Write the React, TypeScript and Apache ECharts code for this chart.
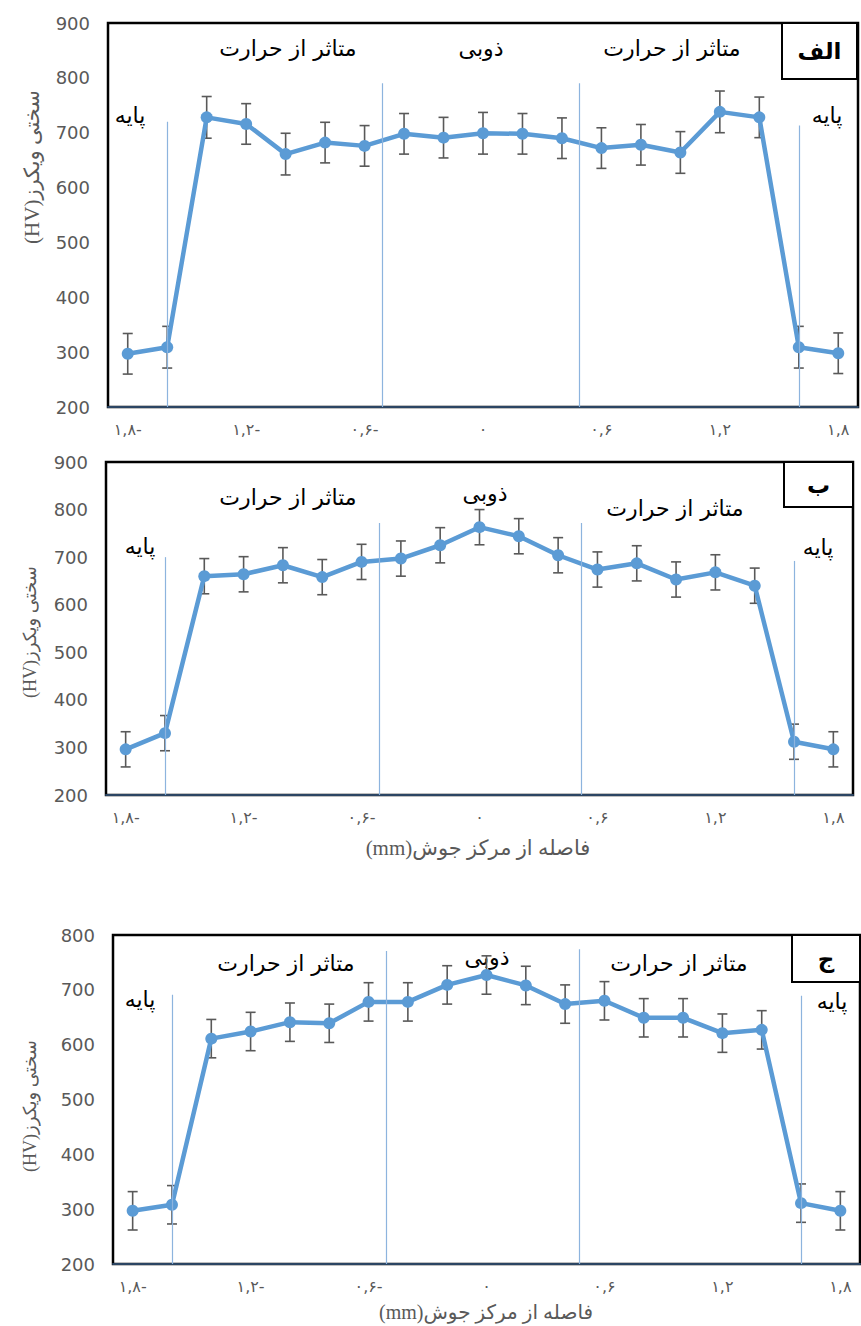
import React, { useEffect, useRef } from "react";
import * as echarts from "echarts";

// Distance from weld centre (mm)
const xs = [-1.8, -1.6, -1.4, -1.2, -1.0, -0.8, -0.6, -0.4, -0.2, 0, 0.2, 0.4, 0.6, 0.8, 1.0, 1.2, 1.4, 1.6, 1.8];

// Panel الف
const hvA = [297, 309, 728, 716, 661, 682, 676, 698, 691, 699, 698, 690, 672, 678, 664, 738, 728, 309, 298];
const errA = [37, 38, 38, 37, 38, 37, 37, 37, 37, 38, 37, 37, 37, 37, 38, 38, 37, 38, 37];
// Panel ب
const hvB = [296, 330, 660, 664, 683, 658, 690, 697, 725, 763, 744, 704, 674, 687, 653, 668, 640, 312, 296];
const errB = [37, 37, 37, 37, 37, 37, 37, 37, 37, 37, 37, 37, 37, 37, 37, 37, 37, 37, 37];
// Panel ج
const hvC = [297, 308, 611, 624, 641, 639, 678, 678, 709, 727, 708, 674, 680, 649, 649, 621, 627, 311, 297];
const errC = [35, 35, 35, 35, 35, 35, 35, 35, 35, 35, 35, 35, 35, 35, 35, 35, 35, 35, 35];

// zone boundary lines: [x, top value]
const zonesA = [[-1.6, 720], [-0.51, 790], [0.49, 790], [1.6, 713]];
const zonesB = [[-1.6, 700], [-0.51, 772], [0.52, 772], [1.6, 692]];
const zonesC = [[-1.6, 691], [-0.51, 771], [0.47, 774], [1.6, 689]];

const xTickValues = [-1.8, -1.2, -0.6, 0, 0.6, 1.2, 1.8];
const xTickLabels = ["۱,۸-", "۱,۲-", "۰,۶-", "۰", "۰,۶", "۱,۲", "۱,۸"];

const yMins = [200, 200, 200];
const yMaxs = [900, 900, 800];

const panelLetters = ["الف", "ب", "ج"];
const zoneHAZ = "متاثر از حرارت";
const zoneFZ = "ذوبی";
const zoneBase = "پایه";
const yTitle = "(HV)سختی ویکرز";
const xTitle = "(mm)فاصله از مرکز جوش";

const LINE_COLOR = "#5B9BD5";
const ERR_COLOR = "#595959";
const ZONE_COLOR = "#8DB4DE";
const PFONT = "DejaVu Sans";

const grids = [
  { left: 108, top: 23, width: 750, height: 384 },
  { left: 106, top: 462, width: 747, height: 333 },
  { left: 113, top: 935, width: 747, height: 329 },
];

export default function App() {
  const ref = useRef<HTMLDivElement>(null);
  useEffect(() => {
    if (!ref.current) return;
    const chart = echarts.init(ref.current, null, { renderer: "svg" });
    const datasets = [
      { hv: hvA, err: errA, zones: zonesA },
      { hv: hvB, err: errB, zones: zonesB },
      { hv: hvC, err: errC, zones: zonesC },
    ];

    const xAxis = grids.map((_, i) => ({
      type: "value",
      gridIndex: i,
      min: -1.9,
      max: 1.9,
      splitLine: { show: false },
      axisTick: { show: false },
      axisLine: { show: true, onZero: false, lineStyle: { color: "#2B4563", width: 2 } },
      axisLabel: {
        customValues: xTickValues,
        color: "#595959",
        fontSize: 16,
        margin: 14,
        fontFamily: PFONT,
        formatter: (v: number) => {
          const k = xTickValues.findIndex((t) => Math.abs(t - v) < 1e-6);
          return k >= 0 ? xTickLabels[k] : "";
        },
      },
    }));

    const yAxis = grids.map((_, i) => ({
      type: "value",
      gridIndex: i,
      min: yMins[i],
      max: yMaxs[i],
      interval: 100,
      splitLine: { show: false },
      axisTick: { show: false },
      axisLine: { show: false },
      axisLabel: { color: "#595959", fontSize: 18, margin: 18, fontFamily: "DejaVu Sans" },
    }));

    const series: any[] = [];
    datasets.forEach((d, i) => {
      series.push({
        type: "custom",
        xAxisIndex: i,
        yAxisIndex: i,
        z: 1,
        silent: true,
        data: xs.map((x, k) => [x, d.hv[k] - d.err[k], d.hv[k] + d.err[k]]),
        renderItem: (params: any, api: any) => {
          const x = api.value(0);
          const top = api.coord([x, api.value(2)]);
          const bot = api.coord([x, api.value(1)]);
          const w = 5;
          const st = { stroke: ERR_COLOR, lineWidth: 1.6 };
          return {
            type: "group",
            children: [
              { type: "line", shape: { x1: top[0], y1: top[1], x2: bot[0], y2: bot[1] }, style: st },
              { type: "line", shape: { x1: top[0] - w, y1: top[1], x2: top[0] + w, y2: top[1] }, style: st },
              { type: "line", shape: { x1: bot[0] - w, y1: bot[1], x2: bot[0] + w, y2: bot[1] }, style: st },
            ],
          };
        },
      });
      series.push({
        type: "line",
        xAxisIndex: i,
        yAxisIndex: i,
        z: 2,
        data: xs.map((x, k) => [x, d.hv[k]]),
        symbol: "circle",
        symbolSize: 12,
        lineStyle: { color: LINE_COLOR, width: 4.5 },
        itemStyle: { color: LINE_COLOR },
        markLine: {
          silent: true,
          symbol: ["none", "none"],
          label: { show: false },
          lineStyle: { color: ZONE_COLOR, width: 1.2, type: "solid" },
          data: d.zones.map((z) => [{ coord: [z[0], yMins[i]] }, { coord: [z[0], z[1]] }]),
        },
      });
    });

    const txt = (x: number, y: number, text: string, fontSize: number, extra: any = {}) => ({
      type: "text",
      x,
      y,
      style: {
        text,
        fontSize,
        fontFamily: PFONT,
        fill: "#000",
        align: "center",
        verticalAlign: "middle",
        ...extra,
      },
    });

    const boxes = [
      { x: 782, y: 23, w: 75, h: 56 },
      { x: 784, y: 462, w: 69, h: 45 },
      { x: 792, y: 935, w: 68, h: 47 },
    ];

    const graphic: any[] = [];
    boxes.forEach((b, i) => {
      graphic.push({
        type: "rect",
        shape: { x: b.x, y: b.y, width: b.w, height: b.h },
        style: { fill: "#fff", stroke: "#000", lineWidth: 2 },
        z: 10,
      });
      graphic.push({ ...txt(b.x + b.w / 2, b.y + b.h / 2, panelLetters[i], 23, { fontWeight: "bold" }), z: 11 });
    });

    // zone annotations
    const ann = [
      { haz1: [288, 48], fz: [481, 48], haz2: [672, 48], b1: [130, 115], b2: [827, 115] },
      { haz1: [288, 497], fz: [485, 493], haz2: [675, 508], b1: [140, 546], b2: [818, 547] },
      { haz1: [286, 963], fz: [487, 957], haz2: [679, 963], b1: [140, 999], b2: [832, 1001] },
    ];
    ann.forEach((a) => {
      graphic.push(txt(a.haz1[0], a.haz1[1], zoneHAZ, 22));
      graphic.push(txt(a.fz[0], a.fz[1], zoneFZ, 22));
      graphic.push(txt(a.haz2[0], a.haz2[1], zoneHAZ, 22));
      graphic.push(txt(a.b1[0], a.b1[1], zoneBase, 22));
      graphic.push(txt(a.b2[0], a.b2[1], zoneBase, 22));
    });

    // y titles
    const yTitles = [
      { x: 32, y: 167, size: 21 },
      { x: 30, y: 632, size: 18 },
      { x: 30, y: 1106, size: 18 },
    ];
    yTitles.forEach((t) => {
      graphic.push({
        type: "text",
        x: t.x,
        y: t.y,
        rotation: Math.PI / 2,
        style: {
          text: yTitle,
          fontSize: t.size,
          fontFamily: "Liberation Serif, " + PFONT,
          fill: "#595959",
          align: "center",
          verticalAlign: "middle",
        },
      });
    });
    // x titles
    graphic.push(txt(478, 848, xTitle, 21, { fill: "#595959", fontFamily: "Liberation Serif, " + PFONT }));
    graphic.push(txt(486, 1312, xTitle, 20, { fill: "#595959", fontFamily: "Liberation Serif, " + PFONT }));

    chart.setOption({
      animation: false,
      backgroundColor: "#fff",
      grid: grids.map((g) => ({ ...g, show: true, borderColor: "#000", borderWidth: 2.5, backgroundColor: "transparent" })),
      xAxis,
      yAxis,
      series,
      graphic,
    });
    return () => chart.dispose();
  }, []);

  return (
    <div
      ref={ref}
      style={{ position: "absolute", left: 0, top: 0, width: 861, height: 1326, background: "#fff" }}
    />
  );
}
